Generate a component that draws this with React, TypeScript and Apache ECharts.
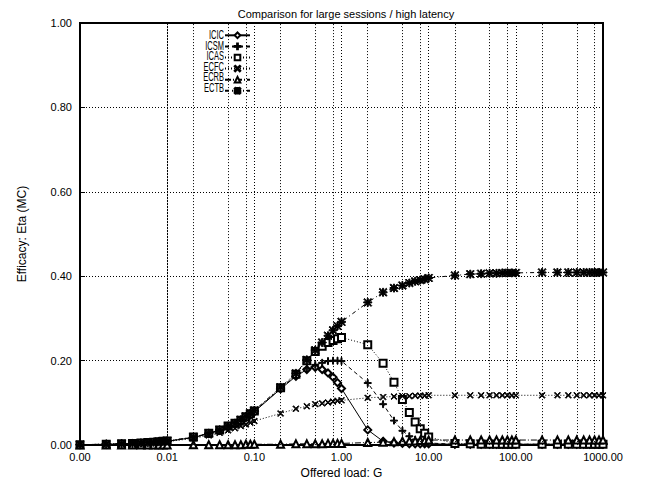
import React, { useEffect, useRef } from 'react';
import * as echarts from 'echarts';

const loads = [
  0.001, 0.002, 0.003, 0.004, 0.005, 0.006, 0.007, 0.008, 0.009,
  0.01, 0.02, 0.03, 0.04, 0.05, 0.06, 0.07, 0.08, 0.09,
  0.1, 0.2, 0.3, 0.4, 0.5, 0.6, 0.7, 0.8, 0.9,
  1, 2, 3, 4, 5, 6, 7, 8, 9,
  10, 20, 30, 40, 50, 60, 70, 80, 90,
  100, 200, 300, 400, 500, 600, 700, 800, 900,
  1000,
];

const icic = [
  0.001, 0.002, 0.003, 0.003, 0.004, 0.005, 0.006, 0.007, 0.008,
  0.009, 0.018, 0.027, 0.035, 0.043, 0.050, 0.057, 0.065, 0.072,
  0.079, 0.133, 0.163, 0.179, 0.184, 0.179, 0.171, 0.161, 0.148,
  0.134, 0.036, 0.009, 0.005, 0.004, 0.003, 0.003, 0.003, 0.003,
  0.003, 0.002, 0.002, 0.002, 0.002, 0.002, 0.002, 0.002, 0.002,
  0.002, 0.002, 0.002, 0.002, 0.002, 0.002, 0.002, 0.002, 0.002,
  0.002,
];

const icsm = [
  0.001, 0.002, 0.003, 0.004, 0.005, 0.006, 0.007, 0.008, 0.008,
  0.009, 0.018, 0.027, 0.035, 0.044, 0.051, 0.058, 0.066, 0.073,
  0.080, 0.134, 0.165, 0.181, 0.190, 0.195, 0.199, 0.200, 0.200,
  0.199, 0.147, 0.097, 0.058, 0.034, 0.021, 0.013, 0.009, 0.006,
  0.005, 0.002, 0.002, 0.002, 0.002, 0.002, 0.002, 0.002, 0.002,
  0.002, 0.002, 0.002, 0.002, 0.002, 0.002, 0.002, 0.002, 0.002,
  0.002,
];

const icas = [
  0.001, 0.002, 0.003, 0.004, 0.005, 0.006, 0.007, 0.008, 0.009,
  0.010, 0.019, 0.028, 0.036, 0.045, 0.052, 0.059, 0.067, 0.074,
  0.081, 0.136, 0.168, 0.200, 0.222, 0.234, 0.243, 0.248, 0.252,
  0.255, 0.238, 0.194, 0.149, 0.108, 0.077, 0.055, 0.039, 0.028,
  0.019, 0.004, 0.003, 0.002, 0.002, 0.002, 0.002, 0.002, 0.002,
  0.002, 0.002, 0.002, 0.002, 0.002, 0.002, 0.002, 0.002, 0.002,
  0.002,
];

const ecfc = [
  0.001, 0.002, 0.002, 0.003, 0.004, 0.005, 0.005, 0.006, 0.007,
  0.008, 0.016, 0.023, 0.029, 0.035, 0.040, 0.045, 0.049, 0.053,
  0.057, 0.075, 0.086, 0.092, 0.097, 0.099, 0.101, 0.103, 0.105,
  0.106, 0.112, 0.114, 0.115, 0.116, 0.116, 0.117, 0.117, 0.117,
  0.118, 0.118, 0.118, 0.118, 0.118, 0.118, 0.118, 0.118, 0.118,
  0.118, 0.118, 0.118, 0.118, 0.118, 0.118, 0.118, 0.118, 0.118,
  0.118,
];

const ecrb = [
  0.000, 0.000, 0.000, 0.000, 0.000, 0.000, 0.000, 0.000, 0.000,
  0.000, 0.001, 0.001, 0.001, 0.001, 0.001, 0.001, 0.002, 0.002,
  0.002, 0.002, 0.003, 0.003, 0.003, 0.003, 0.004, 0.004, 0.004,
  0.004, 0.006, 0.007, 0.008, 0.009, 0.010, 0.010, 0.011, 0.011,
  0.012, 0.012, 0.012, 0.012, 0.012, 0.012, 0.012, 0.012, 0.012,
  0.012, 0.012, 0.012, 0.012, 0.012, 0.012, 0.012, 0.012, 0.012,
  0.012,
];

const ectb = [
  0.001, 0.002, 0.003, 0.004, 0.005, 0.006, 0.007, 0.008, 0.009,
  0.010, 0.019, 0.028, 0.036, 0.045, 0.052, 0.060, 0.068, 0.075,
  0.082, 0.137, 0.170, 0.202, 0.225, 0.243, 0.259, 0.272, 0.282,
  0.292, 0.338, 0.362, 0.372, 0.378, 0.384, 0.388, 0.391, 0.393,
  0.396, 0.402, 0.405, 0.406, 0.407, 0.407, 0.408, 0.408, 0.408,
  0.408, 0.409, 0.409, 0.409, 0.409, 0.409, 0.409, 0.409, 0.409,
  0.409,
];

const seriesNames = ['ICIC', 'ICSM', 'ICAS', 'ECFC', 'ECRB', 'ECTB'];
const seriesValues = [icic, icsm, icas, ecfc, ecrb, ectb];

const minorGridLoads = [
  0.002, 0.005, 0.008, 0.02, 0.05, 0.08, 0.2, 0.5, 0.8,
  2, 5, 8, 20, 50, 80, 200, 500, 800,
];

const FONT = "'Liberation Sans', Arial, Helvetica, sans-serif";

const PLUS = 'path://M4.3,0H5.7V4.3H10V5.7H5.7V10H4.3V5.7H0V4.3H4.3Z';
const CROSS = 'path://M1,0L5,4L9,0L10,1L6,5L10,9L9,10L5,6L1,10L0,9L4,5L0,1Z';
const STAR =
  'path://M4.3,0H5.7V4.3H10V5.7H5.7V10H4.3V5.7H0V4.3H4.3Z M1,0L5,4L9,0L10,1L6,5L10,9L9,10L5,6L1,10L0,9L4,5L0,1Z';

const styles = [
  { symbol: 'emptyDiamond', size: 7, dash: 'solid' as any },
  { symbol: PLUS, size: 7, dash: [4, 3] },
  { symbol: 'emptyRect', size: 7, dash: [1, 2] },
  { symbol: CROSS, size: 6, dash: [1, 2] },
  { symbol: 'emptyTriangle', size: 7, dash: [6, 2, 1, 2] },
  { symbol: STAR, size: 8, dash: [4, 3, 1, 3] },
];

const dotted = { color: '#000', width: 1, type: [1, 2] as any };

// legend layout
const LEG_TOP = 31.5;
const LEG_ITEM_H = 7;
const LEG_GAP = 3.5;
const LEG_ICON_RIGHT = 251;
const LEG_TEXT_RIGHT = 224;

export default function App() {
  const ref = useRef<HTMLDivElement>(null);
  useEffect(() => {
    document.body.style.margin = '0';
    const chart = echarts.init(ref.current!, null, { renderer: 'svg' });
    const dataSeries = seriesNames.map((name, i) => ({
      name,
      type: 'line',
      data: loads.map((x, j) => [x, seriesValues[i][j]]),
      symbol: styles[i].symbol,
      symbolSize: styles[i].size,
      showSymbol: true,
      lineStyle: { color: '#000', width: 1, type: styles[i].dash },
      itemStyle: { color: '#000', borderColor: '#000', borderWidth: 1 },
      emphasis: { disabled: true },
      z: 3,
    }));
    const legendTexts = seriesNames.map((name, i) => ({
      type: 'text',
      x: LEG_TEXT_RIGHT,
      y: LEG_TOP + LEG_ITEM_H / 2 + i * (LEG_ITEM_H + LEG_GAP),
      scaleX: 0.6,
      silent: true,
      style: {
        text: name,
        align: 'right',
        verticalAlign: 'middle',
        fontFamily: FONT,
        fontSize: 12.5,
        fill: '#000',
      },
    }));
    const option: any = {
      animation: false,
      backgroundColor: '#fff',
      title: {
        text: 'Comparison for large sessions / high latency',
        left: 341,
        top: 3,
        textAlign: 'center',
        textStyle: { fontFamily: FONT, fontSize: 11, fontWeight: 'normal', color: '#000' },
      },
      grid: {
        left: 80,
        right: 43,
        top: 23,
        bottom: 35,
        show: true,
        borderColor: '#000',
        borderWidth: 2,
        backgroundColor: 'transparent',
      },
      legend: {
        data: seriesNames,
        orient: 'vertical',
        align: 'right',
        right: 646 - LEG_ICON_RIGHT,
        top: LEG_TOP,
        padding: 0,
        itemWidth: 25,
        itemHeight: LEG_ITEM_H,
        itemGap: LEG_GAP,
        selectedMode: false,
        formatter: () => '',
        textStyle: { fontSize: 1, lineHeight: 1, color: '#000' },
      },
      graphic: legendTexts,
      xAxis: {
        type: 'log',
        logBase: 10,
        min: 0.001,
        max: 1000,
        splitNumber: 6,
        name: 'Offered load: G',
        nameLocation: 'middle',
        nameGap: 20,
        nameTextStyle: { fontFamily: FONT, fontSize: 12, color: '#000' },
        axisLine: { show: true, lineStyle: { color: '#000', width: 2 } },
        axisTick: { show: true, inside: true, length: 5, lineStyle: { color: '#000' } },
        axisLabel: {
          fontFamily: FONT,
          fontSize: 11,
          color: '#000',
          margin: 6,
          formatter: (v: number) => v.toFixed(2),
        },
        splitLine: { show: true, lineStyle: dotted },
      },
      yAxis: {
        type: 'value',
        min: 0,
        max: 1,
        interval: 0.2,
        name: 'Efficacy: Eta (MC)',
        nameLocation: 'middle',
        nameGap: 52,
        nameTextStyle: { fontFamily: FONT, fontSize: 12, color: '#000' },
        axisLine: { show: true, lineStyle: { color: '#000', width: 2 } },
        axisTick: { show: true, inside: true, length: 5, lineStyle: { color: '#000' } },
        axisLabel: {
          fontFamily: FONT,
          fontSize: 11,
          color: '#000',
          margin: 8,
          formatter: (v: number) => v.toFixed(2),
        },
        splitLine: { show: true, lineStyle: dotted },
      },
      series: [
        {
          name: 'grid-minor',
          type: 'line',
          data: [],
          silent: true,
          z: 1,
          markLine: {
            silent: true,
            symbol: 'none',
            label: { show: false },
            lineStyle: dotted,
            emphasis: { disabled: true },
            data: minorGridLoads.map((x) => ({ xAxis: x })),
          },
        },
        ...dataSeries,
      ],
    };
    chart.setOption(option);
    return () => chart.dispose();
  }, []);
  return <div ref={ref} style={{ width: 646, height: 484 }} />;
}
